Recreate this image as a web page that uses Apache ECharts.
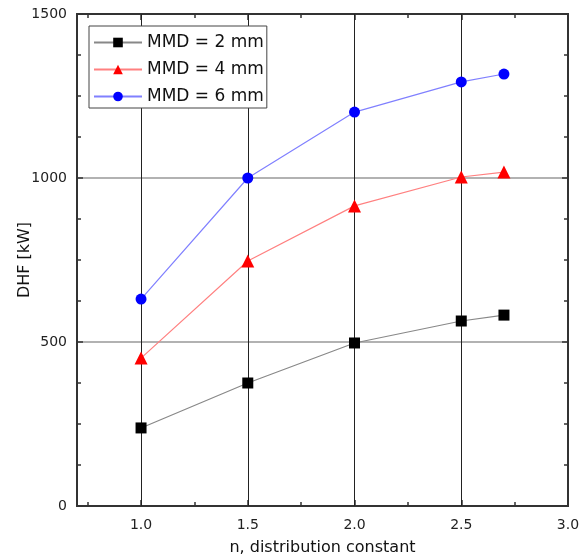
<!DOCTYPE html>
<html><head><meta charset="utf-8">
<script src="https://cdn.jsdelivr.net/npm/echarts@6/dist/echarts.min.js"></script>
<style>html,body{margin:0;padding:0;background:#fff}#c{width:587px;height:560px}</style>
</head><body><div id="c"></div>
<script>
const xValues = [1.0, 1.5, 2.0, 2.5, 2.7];
const mmd2 = [238, 375, 497, 564, 582];
const mmd4 = [451, 747, 915, 1003, 1018];
const mmd6 = [631, 1000, 1201, 1293, 1317];
const seriesNames = ['MMD = 2 mm', 'MMD = 4 mm', 'MMD = 6 mm'];
const xMajor = [1.0, 1.5, 2.0, 2.5, 3.0];
const xMinor = [0.75, 1.25, 1.75, 2.25, 2.75];
const xGrid = [1.0, 1.5, 2.0, 2.5];

const FONT = 'DejaVu Sans';
const chart = echarts.init(document.getElementById('c'));
function pairs(v){ return xValues.map((x,i)=>[x,v[i]]); }
const axisLineStyle = {color:'#333', width:2};
function xAx(pos, labels, ticks, len){
  return {type:'value', position:pos, min:0.7, max:3.0,
    axisLine:{show:true, onZero:false, lineStyle:axisLineStyle},
    axisTick:{show:true, inside:true, length:len, customValues:ticks, lineStyle:{color:'#333', width:1.5}},
    axisLabel:{show:labels, customValues:xMajor, formatter:v=>v.toFixed(1), fontFamily:FONT, fontSize:14, color:'#222', margin:12},
    splitLine:{show:false},
    name: labels ? 'n, distribution constant' : '', nameLocation:'middle', nameGap:34,
    nameTextStyle:{fontFamily:FONT, fontSize:16, color:'#111'}};
}
function yAx(pos, labels){
  return {type:'value', position:pos, min:0, max:1500, interval:500,
    axisLine:{show:true, onZero:false, lineStyle:axisLineStyle},
    axisTick:{show:true, inside:true, length:6, lineStyle:{color:'#333', width:1.5}},
    minorTick:{show:true, splitNumber:4, length:4, lineStyle:{color:'#333', width:1.5}},
    axisLabel:{show:labels, formatter:v=>String(v), fontFamily:FONT, fontSize:14, color:'#222', margin:10},
    splitLine:{show:labels, lineStyle:{color:'#999', width:1.5}},
    name: labels ? 'DHF [kW]' : '', nameLocation:'middle', nameGap:44, nameMoveOverlap:false,
    nameTextStyle:{fontFamily:FONT, fontSize:16, color:'#111'}};
}
chart.setOption({
  animation:false,
  backgroundColor:'#fff',
  grid:{left:77, right:19, top:14, bottom:54, containLabel:false, outerBoundsMode:'none'},
  xAxis:[xAx('bottom', true, xMajor, 6), xAx('bottom', false, xMinor, 4), xAx('top', false, xMajor, 6), xAx('top', false, xMinor, 4)],
  yAxis:[yAx('left', true), yAx('right', false)],
  legend:{left:89, top:26, orient:'vertical', backgroundColor:'#fff', borderColor:'#444', borderWidth:1, borderRadius:0,
    padding:[8,3,3,4], itemWidth:48, itemHeight:12, itemGap:10,
    textStyle:{fontFamily:FONT, fontSize:17, color:'#111'}, data:seriesNames},
  series:[
    {name:seriesNames[0], type:'line', data:pairs(mmd2), symbol:'rect', symbolSize:11,
     lineStyle:{color:'#888', width:1.2}, itemStyle:{color:'#000'}, z:3,
     markLine:{silent:true, symbol:'none', label:{show:false}, lineStyle:{color:'#222', width:1, type:'solid'},
       data:xGrid.map(x=>({xAxis:x})), z:1}},
    {name:seriesNames[1], type:'line', data:pairs(mmd4), symbol:'triangle', symbolSize:13,
     lineStyle:{color:'#ff8080', width:1.2}, itemStyle:{color:'#ff0000'}, z:3},
    {name:seriesNames[2], type:'line', data:pairs(mmd6), symbol:'circle', symbolSize:11,
     lineStyle:{color:'#8080ff', width:1.2}, itemStyle:{color:'#0000ff'}, z:3}
  ]
});
</script></body></html>
